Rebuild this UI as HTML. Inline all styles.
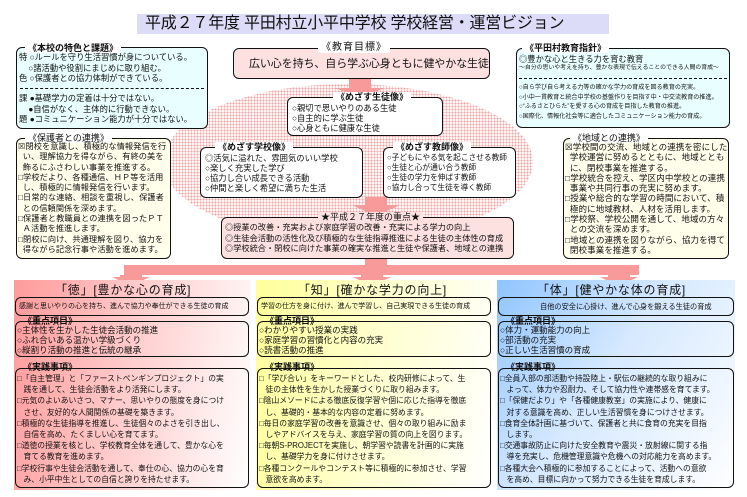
<!DOCTYPE html>
<html><head><meta charset="utf-8"><style>
*{margin:0;padding:0;box-sizing:border-box}
body{width:747px;height:497px;background:#fff;position:relative;overflow:hidden;font-family:"Liberation Sans","Noto Sans CJK JP",sans-serif;color:#111}
.a{position:absolute}
.bx{position:absolute;border:1.5px solid #111;border-radius:6px}
.t{position:absolute;white-space:nowrap}
.lb{position:absolute;white-space:nowrap;background:#fff;font-size:9px;font-weight:bold;padding:0 3px;line-height:10px}
.dot{background-image:radial-gradient(#f2a0a0 0.9px,transparent 1.2px);background-size:3px 3px}
</style></head><body>
<div class="a dot" style="left:163px;top:84px;width:370px;height:156px;border-radius:50%"></div>

<div class="a" style="left:137px;top:14px;width:472px;height:20px;background:#dcdcf8"></div>
<div class="t" style="left:145px;top:14px;font-size:16px;line-height:20px;letter-spacing:-0.2px">平成２７年度 平田村立小平中学校 学校経営・運営ビジョン</div>

<svg class="a" style="left:0;top:0" width="747" height="497">
<g fill="#f89a9a">
<rect x="349" y="78" width="22" height="10"/><polygon points="335,88 385,88 360,97"/>
<rect x="365" y="197" width="22" height="9"/><polygon points="352,205 400,205 376,216"/>
<rect x="365" y="259" width="22" height="7"/>
<rect x="124" y="265" width="515" height="10"/>
<rect x="120" y="275" width="22" height="4"/><polygon points="112,277 150,277 131,286"/>
<rect x="361" y="275" width="22" height="4"/><polygon points="353,277 391,277 372,286"/>
<rect x="608" y="275" width="22" height="4"/><polygon points="600,277 638,277 619,286"/>
</g></svg>

<div class="bx" style="left:16px;top:47px;width:192px;height:82px;background:#e9ffff"></div>
<div class="a" style="left:20px;top:88px;width:184px;border-top:1.5px dashed #111"></div>
<div class="lb" style="left:25px;top:43px">《本校の特色と課題》</div>
<div class="t" style="left:19px;top:52px;font-size:8.3px;line-height:10.5px">特 ○ルールを守り生活習慣が身についている。<br>&nbsp;&nbsp;&nbsp;&nbsp;○諸活動や役割にまじめに取り組む。<br>色 ○保護者との協力体制ができている。</div>
<div class="t" style="left:19px;top:93px;font-size:8.3px;line-height:10.5px">課 ●基礎学力の定着は十分ではない。<br>&nbsp;&nbsp;&nbsp;&nbsp;●自信がなく、主体的に行動できない。<br>題 ●コミュニケーション能力が十分ではない。</div>

<div class="bx" style="left:233px;top:48px;width:257px;height:31px;background:#fde0e0"></div>
<div class="lb" style="left:318px;top:43px;font-weight:normal;font-size:10px;letter-spacing:1px">《教育目標》</div>
<div class="t" style="left:249px;top:57px;font-size:11px;line-height:14px;letter-spacing:-0.1px">広い心を持ち、自ら学ぶ心身ともに健やかな生徒</div>

<div class="bx" style="left:287px;top:97px;width:156px;height:39px;background:#fff"></div>
<div class="lb" style="left:333px;top:92px">《めざす生徒像》</div>
<div class="t" style="left:292px;top:103px;font-size:8.3px;line-height:10px">○親切で思いやりのある生徒<br>○自主的に学ぶ生徒<br>○心身ともに健康な生徒</div>

<div class="bx" style="left:200px;top:147px;width:163px;height:51px;background:#fff"></div>
<div class="lb" style="left:215px;top:142px">《めざす学校像》</div>
<div class="t" style="left:205px;top:153px;font-size:8.3px;line-height:10px">◎活気に溢れた、雰囲気のいい学校<br>○楽しく充実した学び<br>○協力し合い成長できる活動<br>○仲間と楽しく希望に満ちた生活</div>

<div class="bx" style="left:383px;top:147px;width:133px;height:51px;background:#fff"></div>
<div class="lb" style="left:393px;top:142px">《めざす教師像》</div>
<div class="t" style="left:387px;top:153px;font-size:7.7px;line-height:10px">○子どもにやる気を起こさせる教師<br>○生徒と心が通い合う教師<br>○生徒の学力を伸ばす教師<br>○協力し合って生徒を導く教師</div>

<div class="bx" style="left:221px;top:217px;width:293px;height:42px;background:#fde0e0"></div>
<div class="lb" style="left:318px;top:212px;font-weight:normal;background:#fde0e0">★平成２７年度の重点★</div>
<div class="t" style="left:225px;top:223px;font-size:8.2px;line-height:10.5px">◎授業の改善・充実および家庭学習の改善・充実による学力の向上<br>◎生徒会活動の活性化及び積極的な生徒指導推進による生徒の主体性の育成<br>◎学校統合・閉校に向けた事業の確実な推進と生徒や保護者、地域との連携</div>

<div class="bx" style="left:516px;top:48px;width:214px;height:80px;background:#e9ffff"></div>
<div class="a" style="left:519px;top:78px;width:208px;border-top:1.5px dashed #111"></div>
<div class="lb" style="left:522px;top:43px">《平田村教育指針》</div>
<div class="t" style="left:519px;top:54px;font-size:8.3px;line-height:10px">◎豊かな心と生きる力を育む教育</div>
<div class="t" style="left:519px;top:64px;font-size:5.9px;line-height:9px">～自分の思いや考えを持ち、豊かな表現で伝えることのできる人間の育成～</div>
<div class="t" style="left:519px;top:83px;font-size:6.1px;line-height:9.7px">○自ら学び自ら考える力等の確かな学力の育成を図る教育の充実。<br>○小中一貫教育と統合中学校の基盤作りを目指す中・中交流教育の推進。<br>○“ふるさとひらた”を愛する心の育成を目指した教育の推進。<br>○国際化、情報化社会等に適合したコミュニケーション能力の育成。</div>

<div class="bx" style="left:16px;top:138px;width:155px;height:121px;background:#ffffec"></div>
<div class="lb" style="left:25px;top:133px;font-weight:normal">《保護者との連携》</div>
<div class="t" style="left:18px;top:142px;font-size:8.2px;line-height:10.3px;letter-spacing:0.1px">☒閉校を意識し、積極的な情報発信を行<br>&nbsp;&nbsp;い、理解協力を得ながら、有終の美を<br>&nbsp;&nbsp;飾るにふさわしい事業を推進する。<br>□学校だより、各種通信、ＨＰ等を活用<br>&nbsp;&nbsp;し、積極的に情報発信を行います。<br>□日常的な連絡、相談を重視し、保護者<br>&nbsp;&nbsp;との信頼関係を深めます。<br>□保護者と教職員との連携を図ったＰＴ<br>&nbsp;&nbsp;Ａ活動を推進します。<br>□閉校に向け、共通理解を図り、協力を<br>&nbsp;&nbsp;得ながら記念行事や活動を進めます。</div>

<div class="bx" style="left:563px;top:138px;width:166px;height:121px;background:#ffffec"></div>
<div class="lb" style="left:570px;top:133px;font-weight:normal">《地域との連携》</div>
<div class="t" style="left:565px;top:142px;font-size:8.5px;line-height:10.3px;letter-spacing:0.1px">☒学校間の交流、地域との連携を密にした<br>&nbsp;&nbsp;学校運営に努めるとともに、地域ととも<br>&nbsp;&nbsp;に、閉校事業を推進する。<br>□学校統合を控え、学区内中学校との連携<br>&nbsp;&nbsp;事業や共同行事の充実に努めます。<br>□授業や総合的な学習の時間において、積<br>&nbsp;&nbsp;極的に地域教材、人材を活用します。<br>□学校祭、学校公開を通して、地域の方々<br>&nbsp;&nbsp;との交流を深めます。<br>□地域との連携を図りながら、協力を得て<br>&nbsp;&nbsp;閉校事業を推進する。</div>

<div class="a" style="left:14px;top:280px;width:236px;height:210px;background:linear-gradient(100deg,#ff9a9a 0%,#ffcfcf 50%,#fff 100%)"></div>
<div class="a" style="left:256px;top:280px;width:237px;height:210px;background:linear-gradient(100deg,#ffff9a 0%,#ffffd0 50%,#fff 100%)"></div>
<div class="a" style="left:497px;top:280px;width:238px;height:210px;background:linear-gradient(125deg,#8fc4ff 0%,#d6e9ff 45%,#fff 100%)"></div>

<div class="t" style="left:55px;top:283px;font-size:12px;line-height:14px;letter-spacing:0.8px">「徳」[豊かな心の育成]</div>
<div class="t" style="left:298px;top:283px;font-size:12px;line-height:14px;letter-spacing:0.8px">「知」[確かな学力の向上]</div>
<div class="t" style="left:537px;top:283px;font-size:12px;line-height:14px;letter-spacing:0.8px">「体」[健やかな体の育成]</div>

<div class="bx" style="left:15px;top:297px;width:234px;height:19px"></div>
<div class="bx" style="left:257px;top:297px;width:234px;height:19px"></div>
<div class="bx" style="left:498px;top:297px;width:236px;height:19px"></div>
<div class="t" style="left:19px;top:302px;font-size:7px;line-height:9px">感謝と思いやりの心を持ち、進んで協力や奉仕ができる生徒の育成</div>
<div class="t" style="left:261px;top:302px;font-size:7px;line-height:9px">学習の仕方を身に付け、進んで学習し、自己実現できる生徒の育成</div>
<div class="t" style="left:540px;top:302px;font-size:7.2px;line-height:9px">自他の安全に心掛け、進んで心身を鍛える生徒の育成</div>

<div class="bx" style="left:15px;top:321px;width:234px;height:36px"></div>
<div class="bx" style="left:257px;top:321px;width:234px;height:36px"></div>
<div class="bx" style="left:498px;top:321px;width:236px;height:36px"></div>
<div class="lb" style="left:20px;top:316px;background:none">《重点項目》</div>
<div class="lb" style="left:262px;top:316px;background:none">《重点項目》</div>
<div class="lb" style="left:503px;top:316px;background:none">《重点項目》</div>
<div class="t" style="left:17px;top:325px;font-size:8.5px;line-height:10px">○主体性を生かした生徒会活動の推進<br>○ふれ合いある温かい学級づくり<br>○縦割り活動の推進と伝統の継承</div>
<div class="t" style="left:259px;top:325px;font-size:8.5px;line-height:10px">○わかりやすい授業の実践<br>○家庭学習の習慣化と内容の充実<br>○読書活動の推進</div>
<div class="t" style="left:500px;top:325px;font-size:8.5px;line-height:10px">○体力・運動能力の向上<br>○部活動の充実<br>○正しい生活習慣の育成</div>

<div class="bx" style="left:15px;top:368px;width:234px;height:120px"></div>
<div class="bx" style="left:257px;top:368px;width:234px;height:120px"></div>
<div class="bx" style="left:498px;top:368px;width:236px;height:120px"></div>
<div class="lb" style="left:20px;top:362px;background:none">《実践事項》</div>
<div class="lb" style="left:262px;top:362px;background:none">《実践事項》</div>
<div class="lb" style="left:503px;top:362px;background:none">《実践事項》</div>
<div class="t" style="left:17px;top:373px;font-size:7.8px;line-height:11.2px">□「自主管理」と「ファーストペンギンプロジェクト」の実<br>&nbsp;&nbsp;&nbsp;践を通して、生徒会活動をより活発にします。<br>□元気のよいあいさつ、マナー、思いやりの態度を身につけ<br>&nbsp;&nbsp;&nbsp;させ、友好的な人間関係の基礎を築きます。<br>□積極的な生徒指導を推進し、生徒個々のよさを引き出し、<br>&nbsp;&nbsp;&nbsp;自信を高め、たくましい心を育てます。<br>□道徳の授業を核とし、学校教育全体を通して、豊かな心を<br>&nbsp;&nbsp;&nbsp;育てる教育を進めます。<br>□学校行事や生徒会活動を通して、奉仕の心、協力の心を育<br>&nbsp;&nbsp;&nbsp;み、小平中生としての自信と誇りを持たせます。</div>
<div class="t" style="left:259px;top:373px;font-size:7.8px;line-height:11.2px">□「学び合い」をキーワードとした、校内研修によって、生<br>&nbsp;&nbsp;&nbsp;徒の主体性を生かした授業づくりに取り組みます。<br>□陰山メソードによる徹底反復学習や個に応じた指導を徹底<br>&nbsp;&nbsp;&nbsp;し、基礎的・基本的な内容の定着に努めます。<br>□毎日の家庭学習の改善を意識させ、個々の取り組みに励ま<br>&nbsp;&nbsp;&nbsp;しやアドバイスを与え、家庭学習の質の向上を図ります。<br>□毎朝S-PROJECTを実施し、朝学習や読書を計画的に実施<br>&nbsp;&nbsp;&nbsp;し、基礎学力を身に付けさせます。<br>□各種コンクールやコンテスト等に積極的に参加させ、学習<br>&nbsp;&nbsp;&nbsp;意欲を高めます。</div>
<div class="t" style="left:500px;top:373px;font-size:7.8px;line-height:11.2px">□全員入部の部活動や持設陸上・駅伝の継続的な取り組みに<br>&nbsp;&nbsp;&nbsp;よって、体力や忍耐力、そして協力性や連帯感を育てます。<br>□「保健だより」や「各種健康教室」の実施により、健康に<br>&nbsp;&nbsp;&nbsp;対する意識を高め、正しい生活習慣を身につけさせます。<br>□食育全体計画に基づいて、保護者と共に食育の充実を目指<br>&nbsp;&nbsp;&nbsp;します。<br>□交通事故防止に向けた安全教育や震災・放射線に関する指<br>&nbsp;&nbsp;&nbsp;導を充実し、危機管理意識や危機への対応能力を高めます。<br>□各種大会へ積極的に参加することによって、活動への意欲<br>&nbsp;&nbsp;&nbsp;を高め、目標に向かって努力できる生徒を育成します。</div>
</body></html>
